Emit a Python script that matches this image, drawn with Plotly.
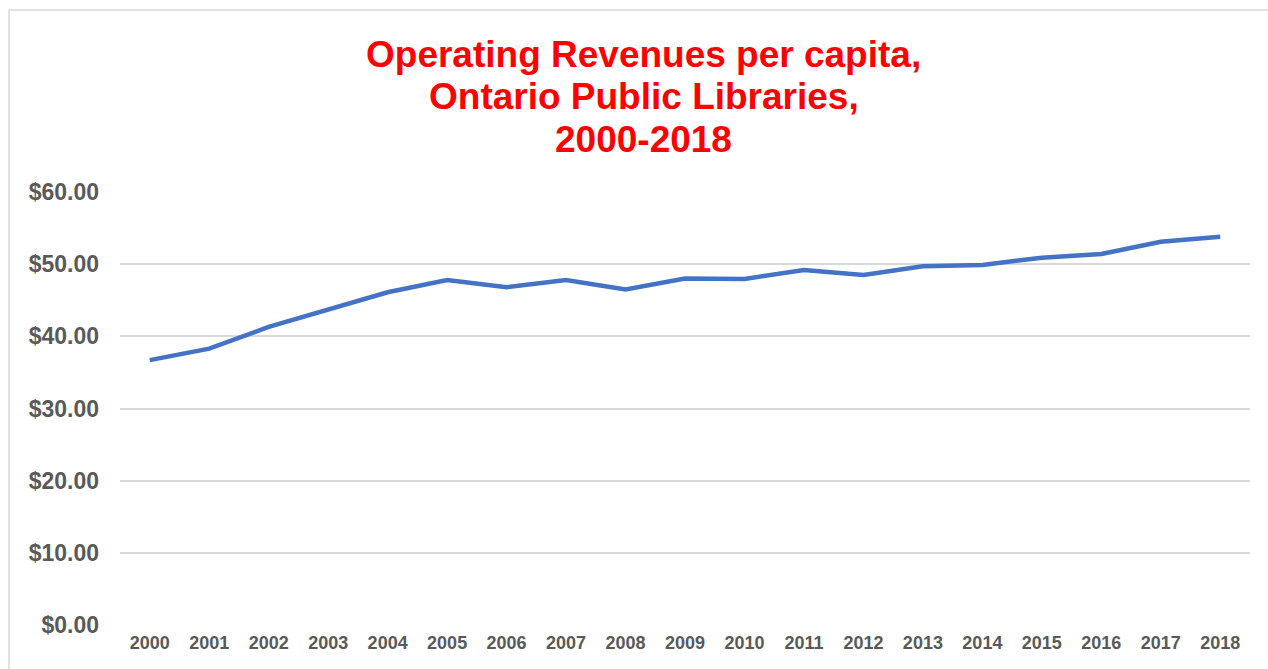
import plotly.graph_objects as go

years = [str(y) for y in range(2000, 2019)]
revenue_per_capita = [36.7, 38.3, 41.3, 43.7, 46.1, 47.8, 46.8, 47.8, 46.5, 48.0,
                      47.95, 49.2, 48.5, 49.7, 49.9, 50.9, 51.4, 53.1, 53.8]
y_ticks = [0, 10, 20, 30, 40, 50, 60]
y_tick_labels = ["$%.2f" % v for v in y_ticks]
title_lines = ["Operating Revenues per capita,", "Ontario Public Libraries,", "2000-2018"]

W, H = 1268, 669
ml, mr, mt, mb = 120, 18, 192, 44
pw, ph = W - ml - mr, H - mt - mb

fig = go.Figure()
fig.add_trace(go.Scatter(
    x=list(range(len(years))), y=revenue_per_capita, mode="lines",
    line=dict(color="#4472C4", width=4.5), hoverinfo="y", showlegend=False,
))

font_family = "Liberation Sans, Arial, sans-serif"
fig.update_layout(
    width=W, height=H,
    margin=dict(l=ml, r=mr, t=mt, b=mb),
    paper_bgcolor="white", plot_bgcolor="white",
    xaxis=dict(
        range=[-0.5, len(years) - 0.5],
        tickmode="array", tickvals=list(range(len(years))), ticktext=years,
        showgrid=False, zeroline=False, showline=False, ticks="",
        ticklabelstandoff=5,
        tickfont=dict(family=font_family, size=18, color="#595959", weight="bold"),
    ),
    yaxis=dict(
        range=[0, 60], tickmode="array", tickvals=y_ticks, ticktext=y_tick_labels,
        showgrid=True, gridcolor="#D9D9D9", gridwidth=1.5,
        zeroline=False, showline=False, ticks="",
        ticklabelstandoff=20,
        tickfont=dict(family=font_family, size=23, color="#595959", weight="bold"),
    ),
)

# chart title, one annotation per line to reproduce the tight line spacing
for i, line in enumerate(title_lines):
    cy = 54 + 42.7 * i
    fig.add_annotation(
        text=line, showarrow=False,
        xref="paper", yref="paper",
        x=(643.5 - ml) / pw, xanchor="center",
        y=1 + (mt - cy) / ph, yanchor="middle",
        font=dict(family=font_family, size=37, color="#FF0000", weight="bold"),
    )

# outer chart border (partially cut off on right and bottom, as in the reference)
fig.add_shape(type="rect", xref="paper", yref="paper",
              x0=(9 - ml) / pw, x1=(1275 - ml) / pw,
              y0=-(680 - (H - mb)) / ph, y1=1 + (mt - 10) / ph,
              line=dict(color="#D9D9D9", width=1.5), fillcolor="rgba(0,0,0,0)",
              layer="below")

fig.write_html("out.html", config={"displayModeBar": False},
               post_script="document.body.style.margin='0';document.body.style.overflow='hidden';")
